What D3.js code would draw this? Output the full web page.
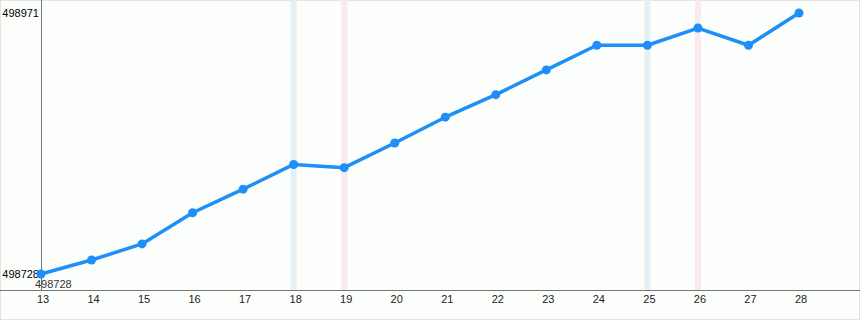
<!DOCTYPE html>
<html>
<head>
<meta charset="utf-8">
<script src="https://cdn.jsdelivr.net/npm/d3@7"></script>
<style>
  body { margin: 0; background: #fff; }
  svg { display: block; font-family: "Liberation Sans", Arial, sans-serif; }
</style>
</head>
<body>
<script>
// chart data
var days = [13, 14, 15, 16, 17, 18, 19, 20, 21, 22, 23, 24, 25, 26, 27, 28];
var values = [498728, 498741, 498756, 498785, 498807, 498830, 498827, 498850,
              498874, 498895, 498918, 498941, 498941, 498957, 498941, 498971];
var blueDays = [18, 25];
var pinkDays = [19, 26];
var yTicks = [498728, 498971];

var width = 860, height = 320;
var axisX = 41, axisY = 290;

var x = d3.scaleLinear().domain([13, 28]).range([axisX, 799]);
var y = d3.scaleLinear().domain([498728, 498971]).range([274, 13]);

var svg = d3.select("body").append("svg")
    .attr("width", width)
    .attr("height", height);

svg.append("rect")
    .attr("x", 0.5).attr("y", 0.5)
    .attr("width", width - 1).attr("height", height - 1)
    .attr("fill", "#fcfefc")
    .attr("stroke", "#e4e4e4");

// weekend bands
svg.selectAll("rect.blue").data(blueDays).enter()
  .append("rect")
    .attr("class", "blue")
    .attr("x", function(d) { return x(d) - 3; })
    .attr("y", 0)
    .attr("width", 6)
    .attr("height", axisY)
    .attr("fill", "#e3f1f4");

svg.selectAll("rect.pink").data(pinkDays).enter()
  .append("rect")
    .attr("class", "pink")
    .attr("x", function(d) { return x(d) - 3; })
    .attr("y", 0)
    .attr("width", 6)
    .attr("height", axisY)
    .attr("fill", "#fbe9f1");

// axes lines
svg.append("line")
    .attr("x1", axisX + 0.5).attr("x2", axisX + 0.5)
    .attr("y1", 0).attr("y2", axisY)
    .attr("stroke", "#777");
svg.append("line")
    .attr("x1", 0).attr("x2", width)
    .attr("y1", axisY + 0.5).attr("y2", axisY + 0.5)
    .attr("stroke", "#777");

// x tick labels
svg.selectAll("text.xt").data(days).enter()
  .append("text")
    .attr("class", "xt")
    .attr("x", function(d) { return x(d) + 2; })
    .attr("y", axisY + 13)
    .attr("text-anchor", "middle")
    .attr("font-size", 11)
    .attr("fill", "#222")
    .text(function(d) { return d; });

// y tick labels
svg.selectAll("text.yt").data(yTicks).enter()
  .append("text")
    .attr("class", "yt")
    .attr("x", axisX - 2)
    .attr("y", function(d) { return y(d) + 4; })
    .attr("text-anchor", "end")
    .attr("font-size", 11)
    .attr("fill", "#000")
    .text(function(d) { return d; });

// line
var line = d3.line()
    .x(function(d, i) { return x(days[i]); })
    .y(function(d) { return y(d); });

svg.append("path")
    .datum(values)
    .attr("d", line)
    .attr("fill", "none")
    .attr("stroke", "#1e8ff8")
    .attr("stroke-width", 3.5)
    .attr("stroke-linejoin", "round");

svg.selectAll("circle").data(values).enter()
  .append("circle")
    .attr("cx", function(d, i) { return x(days[i]); })
    .attr("cy", function(d) { return y(d); })
    .attr("r", 4.5)
    .attr("fill", "#1e8ff8");

// min value label
svg.append("text")
    .attr("x", x(13) - 6)
    .attr("y", y(d3.min(values)) + 14)
    .attr("font-size", 11)
    .attr("fill", "#333")
    .text(d3.min(values));
</script>
</body>
</html>
